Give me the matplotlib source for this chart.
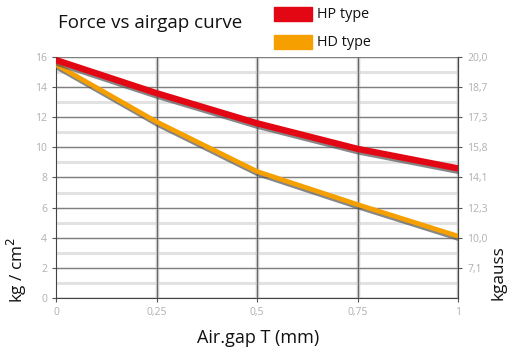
import matplotlib.pyplot as plt
import matplotlib.patheffects as pe

# data
airgap = [0, 0.25, 0.5, 0.75, 1.0]
hp_force = [15.8, 13.6, 11.6, 9.9, 8.6]
hd_force = [15.5, 11.7, 8.4, 6.2, 4.1]

x_ticks = [0, 0.25, 0.5, 0.75, 1.0]
x_labels = ['0', '0,25', '0,5', '0,75', '1']
left_ticks = [0, 2, 4, 6, 8, 10, 12, 14, 16]
right_ticks = [2, 4, 6, 8, 10, 12, 14, 16]
right_labels = ['7,1', '10,0', '12,3', '14,1', '15,8', '17,3', '18,7', '20,0']

plt.rcParams['font.family'] = ['Open Sans', 'DejaVu Sans']

fig = plt.figure(figsize=(5.09, 3.5), dpi=100)
ax = fig.add_axes([0.110, 0.149, 0.790, 0.688])

# grid: light thick lines every unit, thin dark ones on the even values
for y in range(0, 17):
    ax.axhline(y, color='#e2e2e2', lw=2.2, zorder=0)
for y in range(2, 17, 2):
    ax.axhline(y, color='#555555', lw=0.5, zorder=0.5)
for x in x_ticks[1:]:
    ax.axvline(x, color='#c8c8c8', lw=2.5, zorder=0)
    ax.axvline(x, color='#555555', lw=0.6, zorder=0.5)

shadow = [pe.SimpleLineShadow(offset=(0.5, -1.8), shadow_color='#555555', alpha=0.7), pe.Normal()]
ax.plot(airgap, hd_force, color='#f5a000', lw=3.4, solid_capstyle='butt',
        path_effects=shadow, zorder=3)
ax.plot(airgap, hp_force, color='#e30613', lw=4.6, solid_capstyle='butt',
        path_effects=shadow, zorder=4)

ax.set_xlim(0, 1)
ax.set_ylim(0, 16)
ax.set_xticks(x_ticks)
ax.set_xticklabels(x_labels)
ax.set_yticks(left_ticks)
ax.tick_params(colors='#555555', labelcolor='#b0b0b0', labelsize=7.5, length=3, width=0.8)
ax.spines['top'].set_visible(False)
for s in ['left', 'bottom', 'right']:
    ax.spines[s].set_color('#444444')
    ax.spines[s].set_linewidth(0.8)

ax2 = ax.twinx()
ax2.set_ylim(0, 16)
ax2.set_yticks(right_ticks)
ax2.set_yticklabels(right_labels)
ax2.tick_params(colors='#555555', labelcolor='#b0b0b0', labelsize=7.5, length=3, width=0.8)
for s in ['top', 'left', 'bottom']:
    ax2.spines[s].set_visible(False)
ax2.spines['right'].set_color('#444444')
ax2.spines['right'].set_linewidth(0.8)

fig.text(0.114, 0.935, 'Force vs airgap curve', fontsize=13.5, color='#111111', va='center')
fig.text(0.507, 0.034, 'Air.gap T (mm)', fontsize=13, color='#111111', ha='center', va='center')
fig.text(0.034, 0.228, 'kg / cm$^2$', fontsize=12.3, color='#111111', rotation=90,
         ha='center', va='center')
fig.text(499 / 509, 1 - 273 / 350, 'kgauss', fontsize=12.3, color='#111111', rotation=90,
         ha='center', va='center')

# legend boxes
fig.patches.append(plt.Rectangle((274 / 509, 1 - 21 / 350), 38 / 509, 14 / 350,
                                 transform=fig.transFigure, color='#e30613'))
fig.patches.append(plt.Rectangle((274 / 509, 1 - 49 / 350), 38 / 509, 14 / 350,
                                 transform=fig.transFigure, color='#f5a000'))
fig.text(317 / 509, 1 - 14 / 350, 'HP type', fontsize=10.4, color='#111111', va='center')
fig.text(317 / 509, 1 - 42 / 350, 'HD type', fontsize=10.4, color='#111111', va='center')

fig.savefig('out.png', dpi=100)
